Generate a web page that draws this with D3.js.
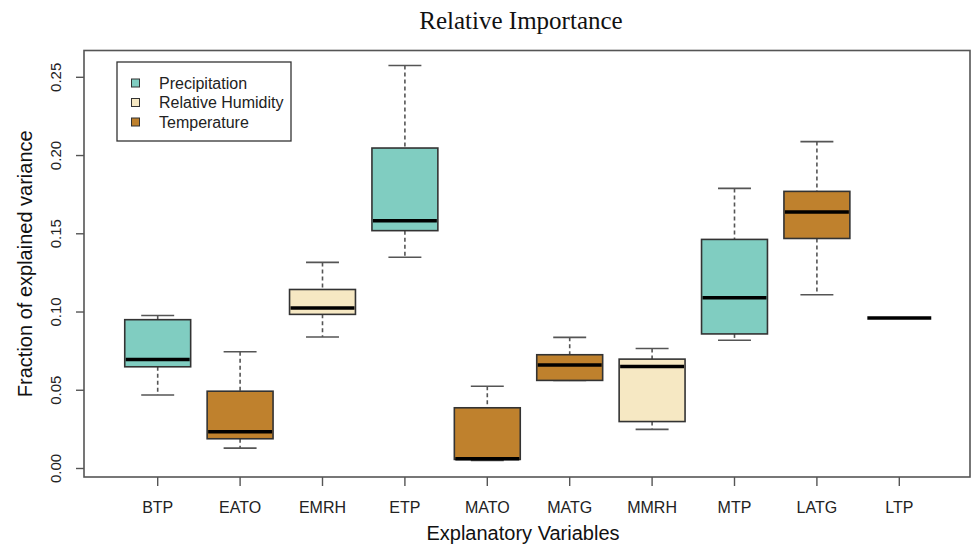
<!DOCTYPE html>
<html>
<head>
<meta charset="utf-8">
<script src="https://cdn.jsdelivr.net/npm/d3@7"></script>
<style>
  body { margin: 0; background: #fff; }
  svg { display: block; }
  text { font-family: "Liberation Sans", Arial, sans-serif; fill: #111; }
</style>
</head>
<body>
<svg id="chart" width="972" height="546"></svg>
<script>
const categories = ["BTP","EATO","EMRH","ETP","MATO","MATG","MMRH","MTP","LATG","LTP"];
const groups = ["Precipitation","Temperature","Relative Humidity","Precipitation","Temperature",
                "Temperature","Relative Humidity","Precipitation","Temperature","Precipitation"];
const whiskerLow  = [0.047, 0.013, 0.084, 0.135, 0.0051, 0.0563, 0.025, 0.082, 0.111, 0.0962];
const q1          = [0.065, 0.019, 0.0985, 0.152, 0.0058, 0.0563, 0.030, 0.086, 0.147, 0.0962];
const medians     = [0.0697, 0.0235, 0.1025, 0.1584, 0.0063, 0.0661, 0.0652, 0.1091, 0.1639, 0.0962];
const q3          = [0.0951, 0.0494, 0.1144, 0.2048, 0.0388, 0.0727, 0.0699, 0.1464, 0.1771, 0.0962];
const whiskerHigh = [0.0978, 0.0746, 0.1317, 0.2575, 0.0526, 0.0838, 0.0767, 0.1790, 0.2089, 0.0962];
const yTicks = [0, 0.05, 0.10, 0.15, 0.20, 0.25];
const legendLabels = ["Precipitation","Relative Humidity","Temperature"];
const legendColors = ["#80cdc1","#f6e8c3","#bf812d"];

const svg = d3.select("#chart");
const frame = {left: 84, right: 970, top: 50.5, bottom: 477};

const x = d3.scaleLinear().domain([1, 10]).range([157.7, 899.3]);
const y = d3.scaleLinear().domain([0, 0.25]).range([468.5, 77.3]);
const color = d3.scaleOrdinal().domain(legendLabels).range(legendColors);
const unit = x(2) - x(1);
const boxW = unit * 0.8;
const capW = boxW / 2;

const data = categories.map((c, i) => ({
  cat: c, idx: i + 1, group: groups[i],
  lo: whiskerLow[i], q1: q1[i], med: medians[i], q3: q3[i], hi: whiskerHigh[i]
}));

// title
svg.append("text")
  .attr("x", 521).attr("y", 29)
  .attr("text-anchor", "middle")
  .style("font-family", "'Liberation Serif', 'Times New Roman', serif")
  .style("font-size", "25px")
  .text("Relative Importance");

// boxes
const g = svg.append("g");
data.forEach(d => {
  const cx = x(d.idx);
  const flat = d.hi === d.lo;
  if (!flat) {
    // whiskers (dashed)
    g.append("line").attr("x1", cx).attr("x2", cx).attr("y1", y(d.hi)).attr("y2", y(d.q3))
      .attr("stroke", "#555").attr("stroke-width", 1.6).attr("stroke-dasharray", "4,3");
    g.append("line").attr("x1", cx).attr("x2", cx).attr("y1", y(d.q1)).attr("y2", y(d.lo))
      .attr("stroke", "#555").attr("stroke-width", 1.6).attr("stroke-dasharray", "4,3");
    // caps
    [d.hi, d.lo].forEach(v => {
      g.append("line").attr("x1", cx - capW/2).attr("x2", cx + capW/2).attr("y1", y(v)).attr("y2", y(v))
        .attr("stroke", "#555").attr("stroke-width", 1.6);
    });
    // box
    g.append("rect").attr("x", cx - boxW/2).attr("width", boxW)
      .attr("y", y(d.q3)).attr("height", y(d.q1) - y(d.q3))
      .attr("fill", color(d.group)).attr("stroke", "#333").attr("stroke-width", 1.6);
  }
  // median
  g.append("line").attr("x1", cx - boxW/2 + 1).attr("x2", cx + boxW/2 - 1)
    .attr("y1", y(d.med)).attr("y2", y(d.med))
    .attr("stroke", "#000").attr("stroke-width", 3.5);
});

// frame
svg.append("rect").attr("x", frame.left).attr("y", frame.top)
  .attr("width", frame.right - frame.left).attr("height", frame.bottom - frame.top)
  .attr("fill", "none").attr("stroke", "#555").attr("stroke-width", 1.6);

// y axis
const yAxis = svg.append("g");
yTicks.forEach(t => {
  yAxis.append("line").attr("x1", frame.left - 8).attr("x2", frame.left)
    .attr("y1", y(t)).attr("y2", y(t)).attr("stroke", "#555").attr("stroke-width", 1.4);
  yAxis.append("text")
    .attr("transform", `translate(61,${y(t)}) rotate(-90)`)
    .attr("text-anchor", "middle")
    .style("font-size", "15px").style("fill", "#222")
    .text(d3.format(".2f")(t));
});
svg.append("text")
  .attr("transform", `translate(32,${(frame.top + frame.bottom)/2}) rotate(-90)`)
  .attr("text-anchor", "middle")
  .style("font-size", "20px")
  .text("Fraction of explained variance");

// x axis
const xAxis = svg.append("g");
data.forEach(d => {
  xAxis.append("line").attr("x1", x(d.idx)).attr("x2", x(d.idx))
    .attr("y1", frame.bottom).attr("y2", frame.bottom + 9)
    .attr("stroke", "#555").attr("stroke-width", 1.4);
  xAxis.append("text").attr("x", x(d.idx)).attr("y", 513)
    .attr("text-anchor", "middle").style("font-size", "16px").style("fill", "#222")
    .text(d.cat);
});
svg.append("text").attr("x", 523).attr("y", 540)
  .attr("text-anchor", "middle").style("font-size", "20px")
  .text("Explanatory Variables");

// legend
const lg = svg.append("g");
lg.append("rect").attr("x", 117).attr("y", 62).attr("width", 174).attr("height", 79)
  .attr("fill", "#fff").attr("stroke", "#333").attr("stroke-width", 1.3);
legendLabels.forEach((l, i) => {
  const cy = 83 + i * 19.5;
  lg.append("rect").attr("x", 131.5).attr("y", cy - 4).attr("width", 8).attr("height", 8)
    .attr("fill", legendColors[i]).attr("stroke", "#333").attr("stroke-width", 1);
  lg.append("text").attr("x", 159).attr("y", cy + 5.5)
    .style("font-size", "16px").style("fill", "#222").text(l);
});
</script>
</body>
</html>
